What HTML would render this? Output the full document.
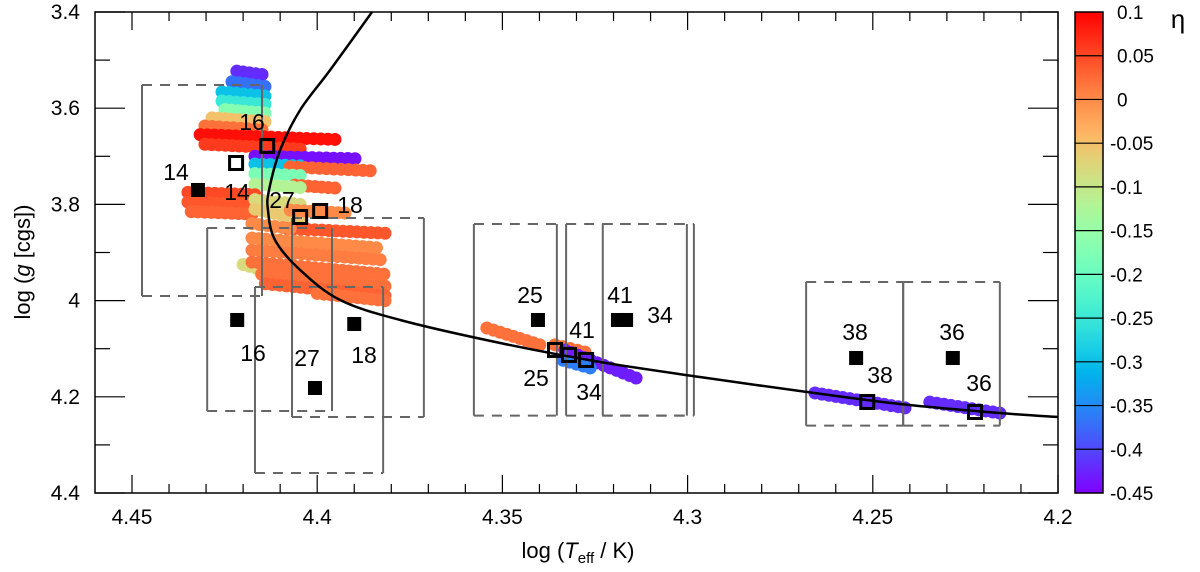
<!DOCTYPE html>
<html><head><meta charset="utf-8"><style>
body{margin:0;background:#fff}
svg{display:block;font-family:"Liberation Sans",sans-serif}
</style></head><body>
<svg id="chart" width="1200" height="572" viewBox="0 0 1200 572" xmlns="http://www.w3.org/2000/svg">
<defs><clipPath id="clip"><rect x="95" y="12" width="963" height="481"/></clipPath>
<linearGradient id="cbgrad" x1="0" y1="1" x2="0" y2="0"></linearGradient></defs>
<g id="dots" clip-path="url(#clip)"></g>
<g id="boxes"></g>
<g id="curve" clip-path="url(#clip)"></g>
<g id="marks"></g>
<g id="axes"></g>
<g id="cbar"></g>
</svg>
<script>
// ---- data ----
const xTicks=[4.45,4.4,4.35,4.3,4.25,4.2];
const xTickLabels=["4.45","4.4","4.35","4.3","4.25","4.2"];
const yTicks=[3.4,3.6,3.8,4.0,4.2,4.4];
const yTickLabels=["3.4","3.6","3.8","4","4.2","4.4"];
const cbTicks=[0.1,0.05,0,-0.05,-0.1,-0.15,-0.2,-0.25,-0.3,-0.35,-0.4,-0.45];
const cbTickLabels=["0.1","0.05","0","-0.05","-0.1","-0.15","-0.2","-0.25","-0.3","-0.35","-0.4","-0.45"];
// model rows: start/end Teff, start/end logg, eta
const rowT1=[4.4217,4.4230,4.4257,4.4257,4.4249,4.4284,4.4303,4.4316,4.4303,4.4168,4.4168,4.4073,4.4168,4.4060,4.4168,4.4349,4.4349,4.4340,4.4168,4.4168,4.4073,4.4082,4.4176,4.4176,4.4176,4.4200,4.4176,4.4150,4.4140,4.4000,4.3542,4.3358,4.3331,4.3336,4.2656,4.2346];
const rowT2=[4.4149,4.4141,4.4141,4.4141,4.4141,4.4141,4.4149,4.3952,4.4046,4.3898,4.4046,4.3857,4.4046,4.3952,4.4046,4.4168,4.4176,4.4176,4.4046,4.4046,4.3925,4.3817,4.4073,4.3840,4.3830,4.4130,4.3820,4.3817,4.3817,4.3817,4.3399,4.3277,4.3139,4.3263,4.2413,4.2157];
const rowG1=[3.523,3.545,3.566,3.585,3.603,3.620,3.637,3.655,3.675,3.700,3.716,3.722,3.736,3.760,3.758,3.775,3.795,3.815,3.790,3.810,3.812,3.850,3.840,3.870,3.895,3.925,3.920,3.945,3.965,3.985,4.057,4.092,4.103,4.124,4.192,4.211];
const rowG2=[3.530,3.555,3.575,3.592,3.610,3.628,3.645,3.665,3.685,3.705,3.720,3.730,3.740,3.766,3.765,3.780,3.800,3.820,3.800,3.830,3.818,3.860,3.850,3.890,3.915,3.940,3.945,3.970,3.990,4.000,4.092,4.107,4.161,4.140,4.223,4.234];
const rowEta=[-0.42,-0.37,-0.30,-0.25,-0.17,-0.05,0.02,0.09,0.06,-0.44,-0.30,0.03,-0.18,0.03,-0.12,0.05,0.04,0.03,-0.08,-0.06,0.0,0.04,0.0,0.0,0.01,-0.08,0.02,0.02,0.03,0.02,0.02,0.02,-0.43,-0.36,-0.42,-0.42];
// track curve
const curveT=[4.3852,4.3965,4.4046,4.4100,4.4130,4.4133,4.4114,4.4046,4.3938,4.3776,4.3506,4.3236,4.2967,4.2697,4.2427,4.2157,4.2];
const curveG=[3.40,3.5206,3.6037,3.6869,3.7701,3.8116,3.874,3.9364,3.9988,4.0403,4.0881,4.1276,4.1588,4.1879,4.2150,4.2337,4.2420];
// error boxes (Teff left/right, logg top/bottom)
const boxTL=[4.4473,4.4297,4.4068,4.4168,4.3577,4.3328,4.3229,4.2680,4.2418];
const boxTR=[4.4149,4.3960,4.3712,4.3822,4.3353,4.3002,4.2983,4.2418,4.2157];
const boxGT=[3.5518,3.8491,3.8283,3.9717,3.8408,3.8408,3.8408,3.9613,3.9613];
const boxGB=[3.9904,4.2295,4.2420,4.3584,4.2391,4.2391,4.2391,4.2600,4.2600];
// observed (filled) and model (open) positions
const obsLabel=["14","16","27","18","25","41","34","38","36"];
const obsT=[4.4322,4.4216,4.4006,4.3900,4.3404,4.3188,4.3166,4.2545,4.2284];
const obsG=[3.7700,4.0403,4.1817,4.0486,4.0403,4.0403,4.0403,4.1193,4.1193];
const modT=[4.4219,4.4135,4.4046,4.3992,4.3358,4.3320,4.3274,4.2515,4.2224];
const modG=[3.7139,3.6785,3.8262,3.8137,4.1026,4.1130,4.1234,4.2108,4.2316];
</script>
<script>
const NS="http://www.w3.org/2000/svg";
const X0=95,X1=1058,Y0=12,Y1=493;
function xs(t){return 1058+(4.2-t)*3704;}
function ys(g){return 12+(g-3.4)*481;}
function cbY(v){return 12+(0.1-v)/0.55*481;}
function mk(tag,attrs,parent){const e=document.createElementNS(NS,tag);for(const k in attrs)e.setAttribute(k,attrs[k]);parent.appendChild(e);return e;}
function rainbow(eta){let t=(eta+0.45)/0.55;t=Math.max(0,Math.min(1,t));
 const r=Math.min(1,Math.abs(2*t-0.5)),g=Math.sin(Math.PI*t),b=Math.cos(Math.PI*t/2);
 return `rgb(${Math.round(r*255)},${Math.round(g*255)},${Math.round(b*255)})`;}
const dots=document.getElementById('dots');
for(let i=0;i<rowEta.length;i++){
 const x1=xs(rowT1[i]),x2=xs(rowT2[i]),y1=ys(rowG1[i]),y2=ys(rowG2[i]);
 const len=Math.hypot(x2-x1,y2-y1);const n=Math.max(1,Math.round(len/7));
 const col=rainbow(rowEta[i]);
 for(let k=0;k<=n;k++){const f=k/n;
  const c=mk('circle',{cx:x1+(x2-x1)*f,cy:y1+(y2-y1)*f,r:6.5,fill:col},dots);
  
  
 }
}
const boxes=document.getElementById('boxes');
for(let i=0;i<boxTL.length;i++){
 const l=xs(boxTL[i]),r=xs(boxTR[i]),t=ys(boxGT[i]),b=ys(boxGB[i]);
 const g=mk('g',{stroke:'#666','stroke-width':2,fill:'none'},boxes);
 
 
 mk('line',{x1:l,y1:t,x2:l,y2:b},g);mk('line',{x1:r,y1:t,x2:r,y2:b},g);
 mk('line',{x1:l,y1:t,x2:r,y2:t,'stroke-dasharray':'10,8'},g);
 mk('line',{x1:l,y1:b,x2:r,y2:b,'stroke-dasharray':'10,8'},g);
}
// smooth curve (Catmull-Rom)
const cv=document.getElementById('curve');
const P=curveT.map((t,i)=>[xs(t),ys(curveG[i])]);
let d=`M${P[0][0]},${P[0][1]}`;
for(let i=0;i<P.length-1;i++){
 const p0=P[Math.max(0,i-1)],p1=P[i],p2=P[i+1],p3=P[Math.min(P.length-1,i+2)];
 const c1=[p1[0]+(p2[0]-p0[0])/6,p1[1]+(p2[1]-p0[1])/6];
 const c2=[p2[0]-(p3[0]-p1[0])/6,p2[1]-(p3[1]-p1[1])/6];
 d+=` C${c1[0]},${c1[1]} ${c2[0]},${c2[1]} ${p2[0]},${p2[1]}`;
}
const pl=mk('path',{d:d,fill:'none',stroke:'#000','stroke-width':2.5},cv);


const marks=document.getElementById('marks');
for(let i=0;i<obsT.length;i++){
 const x=xs(obsT[i]),y=ys(obsG[i]);
 const s=mk('rect',{x:x-7,y:y-7,width:14,height:14,fill:'#000'},marks);
 
 
 const mx=xs(modT[i]),my=ys(modG[i]);
 const o=mk('rect',{x:mx-6.5,y:my-6.5,width:13,height:13,fill:'none',stroke:'#000','stroke-width':3},marks);
 
 
}
const lab=[[176,172],[253,353],[307,358],[364,355],[530,295],[620,295],[660,315],[855,332],[952,332]];
const labM=[[237,192],[252,122],[282,200],[350,205],[536,378],[582,330],[589,392],[880,375],[979,383]];
for(let i=0;i<obsLabel.length;i++){
 const a=mk('text',{x:lab[i][0],y:lab[i][1]+8,'font-size':23,'text-anchor':'middle'},marks);a.textContent=obsLabel[i];
 
 
 const b=mk('text',{x:labM[i][0],y:labM[i][1]+8,'font-size':23,'text-anchor':'middle'},marks);b.textContent=obsLabel[i];
 
 
}
const ax=document.getElementById('axes');
mk('rect',{x:X0,y:Y0,width:X1-X0,height:Y1-Y0,fill:'none',stroke:'#000','stroke-width':1.5},ax);
for(let v=4.46;v>=4.1999;v-=0.01){const x=xs(v);if(x<X0+1)continue;
 const major=xTicks.some(t=>Math.abs(t-v)<1e-6);const L=major?18:9;
 mk('line',{x1:x,y1:Y1,x2:x,y2:Y1-L,stroke:'#000','stroke-width':1.2},ax);
 mk('line',{x1:x,y1:Y0,x2:x,y2:Y0+L,stroke:'#000','stroke-width':1.2},ax);}
for(let v=3.4;v<=4.4001;v+=0.1){const y=ys(v);
 const major=yTicks.some(t=>Math.abs(t-v)<1e-6);const L=major?30:15;
 mk('line',{x1:X0,y1:y,x2:X0+L,y2:y,stroke:'#000','stroke-width':1.2},ax);
 mk('line',{x1:X1,y1:y,x2:X1-L,y2:y,stroke:'#000','stroke-width':1.2},ax);}
xTicks.forEach((v,i)=>{const t=mk('text',{x:xs(v),y:524,'font-size':21,'text-anchor':'middle'},ax);t.textContent=xTickLabels[i];
 
 });
yTicks.forEach((v,i)=>{const t=mk('text',{x:80,y:ys(v)+7,'font-size':21,'text-anchor':'end'},ax);t.textContent=yTickLabels[i];
 
 });
const grad=document.getElementById('cbgrad');
for(let k=0;k<=20;k++){const f=k/20;mk('stop',{offset:f,'stop-color':rainbow(-0.45+0.55*f)},grad);}
const cb=document.getElementById('cbar');
mk('rect',{x:1075,y:Y0,width:28,height:Y1-Y0,fill:'url(#cbgrad)',stroke:'#000','stroke-width':1.5},cb);
cbTicks.forEach((v,i)=>{const y=cbY(v);
 if(i>0&&i<cbTicks.length-1)mk('line',{x1:1075,y1:y,x2:1103,y2:y,stroke:'#000','stroke-width':1.2},cb);
 const t=mk('text',{x:v<0?1110:1117,y:y+7,'font-size':19},cb);t.textContent=cbTickLabels[i];
 
 });
</script>
<svg style="position:absolute;left:0;top:0" width="1200" height="572">
<text x="578" y="558" font-size="22" text-anchor="middle" font-family="Liberation Sans, sans-serif">log (<tspan font-style="italic">T</tspan><tspan font-size="15" dy="5">eff</tspan><tspan dy="-5"> / K)</tspan></text>
<text transform="translate(30,262) rotate(-90)" font-size="22" text-anchor="middle" font-family="Liberation Sans, sans-serif">log (<tspan font-style="italic">g</tspan> [cgs])</text>
<text x="1178" y="28" font-size="26" text-anchor="middle" font-family="Liberation Sans, sans-serif">η</text>
</svg>
</body></html>
